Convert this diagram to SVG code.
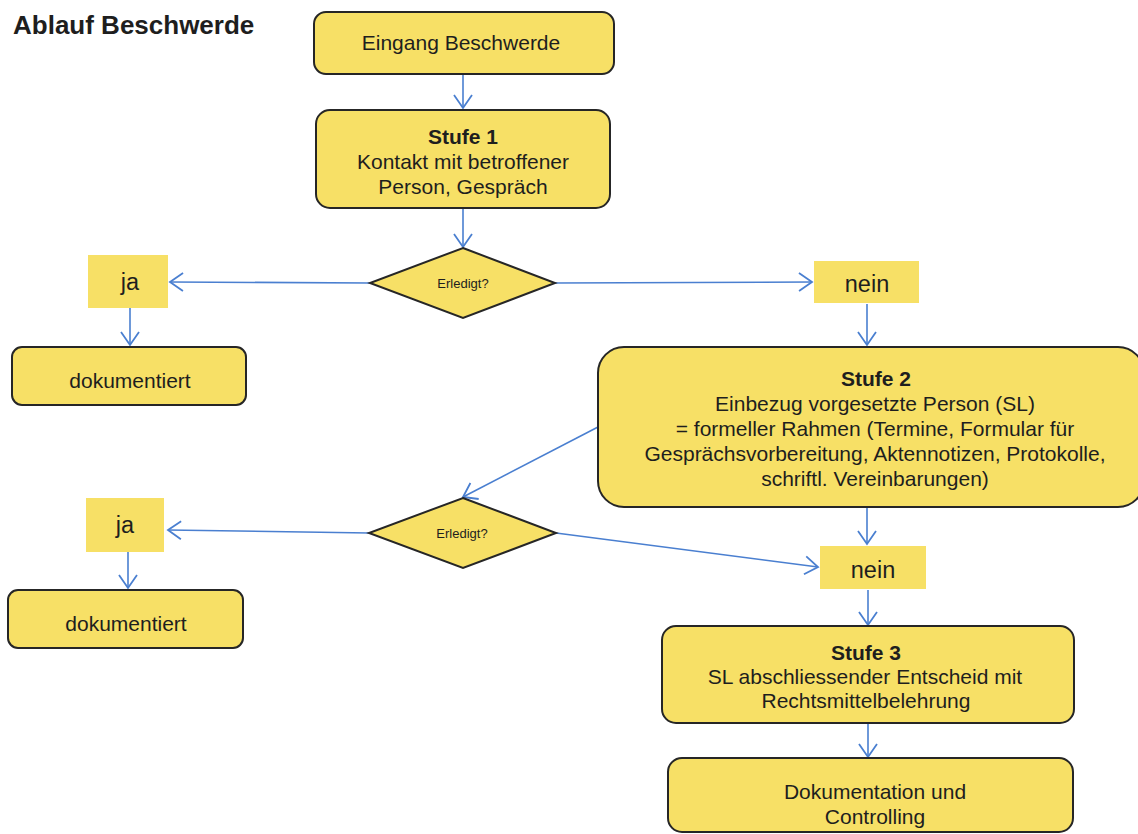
<svg xmlns="http://www.w3.org/2000/svg" width="1138" height="834" viewBox="0 0 1138 834">
<defs>
<style>
.box{fill:#F7E066;stroke:#262626;stroke-width:2}
.lab{fill:#F7E066;stroke:none}
.t{font-family:"Liberation Sans",Arial,sans-serif;fill:#1e1e1e;text-anchor:middle;font-size:21px}
.b{font-weight:bold}
.big{font-size:23.5px}
.sm{font-size:13px}
.c{fill:none;stroke:#4A7FD0;stroke-width:1.6;marker-end:url(#ah)}
</style>
<marker id="ah" markerUnits="userSpaceOnUse" markerWidth="16" markerHeight="20" viewBox="0 0 16 20" refX="14" refY="10" orient="auto">
<path d="M1,1 L14,10 L1,19" fill="none" stroke="#4A7FD0" stroke-width="1.8"/>
</marker>
</defs>
<rect width="1138" height="834" fill="#ffffff"/>
<text x="13" y="34" class="t b" style="text-anchor:start;font-size:26px">Ablauf Beschwerde</text>

<g id="connectors">
<line class="c" x1="463" y1="74" x2="463" y2="108"/>
<line class="c" x1="463" y1="209" x2="463" y2="247"/>
<line class="c" x1="370" y1="283" x2="170" y2="282"/>
<line class="c" x1="555" y1="283" x2="812" y2="282"/>
<line class="c" x1="130" y1="308" x2="130" y2="345"/>
<line class="c" x1="867" y1="304" x2="867" y2="345"/>
<line class="c" x1="598" y1="427" x2="463" y2="497"/>
<line class="c" x1="369" y1="533" x2="168" y2="530"/>
<line class="c" x1="556" y1="533" x2="818" y2="567"/>
<line class="c" x1="128" y1="552" x2="128" y2="588"/>
<line class="c" x1="867" y1="508" x2="867" y2="544"/>
<line class="c" x1="868" y1="590" x2="868" y2="625"/>
<line class="c" x1="868" y1="724" x2="868" y2="757"/>
</g>

<g id="eingang">
<rect class="box" x="314" y="12" width="300" height="62" rx="12"/>
<text class="t" x="461" y="50">Eingang Beschwerde</text>
</g>
<g id="stufe1">
<rect class="box" x="316" y="110" width="294" height="98" rx="14"/>
<text class="t b" x="463" y="144">Stufe 1</text>
<text class="t" x="463" y="169">Kontakt mit betroffener</text>
<text class="t" x="463" y="194">Person, Gespräch</text>
</g>
<g id="decision1">
<polygon class="box" points="463,248 555,283 463,318 370,283"/>
<text class="t sm" x="463" y="288">Erledigt?</text>
</g>
<g id="ja1">
<rect class="lab" x="88" y="255" width="80" height="53"/>
<text class="t big" x="130" y="290">ja</text>
</g>
<g id="dokumentiert1">
<rect class="box" x="12" y="347" width="234" height="58" rx="10"/>
<text class="t" x="130" y="388">dokumentiert</text>
</g>
<g id="nein1">
<rect class="lab" x="814" y="261" width="105" height="42"/>
<text class="t big" x="867" y="292">nein</text>
</g>
<g id="stufe2">
<rect class="box" x="598" y="347" width="546" height="160" rx="26"/>
<text class="t b" x="876" y="386">Stufe 2</text>
<text class="t" x="875" y="411">Einbezug vorgesetzte Person (SL)</text>
<text class="t" x="875" y="436">= formeller Rahmen (Termine, Formular für</text>
<text class="t" x="875" y="461">Gesprächsvorbereitung, Aktennotizen, Protokolle,</text>
<text class="t" x="875" y="486">schriftl. Vereinbarungen)</text>
</g>
<g id="decision2">
<polygon class="box" points="463,498 556,533 463,568 369,533"/>
<text class="t sm" x="462" y="538">Erledigt?</text>
</g>
<g id="ja2">
<rect class="lab" x="86" y="498" width="78" height="54"/>
<text class="t big" x="125" y="533">ja</text>
</g>
<g id="dokumentiert2">
<rect class="box" x="8" y="590" width="235" height="58" rx="10"/>
<text class="t" x="126" y="631">dokumentiert</text>
</g>
<g id="nein2">
<rect class="lab" x="820" y="546" width="106" height="43"/>
<text class="t big" x="873" y="578">nein</text>
</g>
<g id="stufe3">
<rect class="box" x="662" y="626" width="412" height="97" rx="14"/>
<text class="t b" x="866" y="660">Stufe 3</text>
<text class="t" x="865" y="684">SL abschliessender Entscheid mit</text>
<text class="t" x="866" y="708">Rechtsmittelbelehrung</text>
</g>
<g id="dokumentation">
<rect class="box" x="668" y="758" width="405" height="74" rx="14"/>
<text class="t" x="875" y="799">Dokumentation und</text>
<text class="t" x="875" y="824">Controlling</text>
</g>
</svg>
